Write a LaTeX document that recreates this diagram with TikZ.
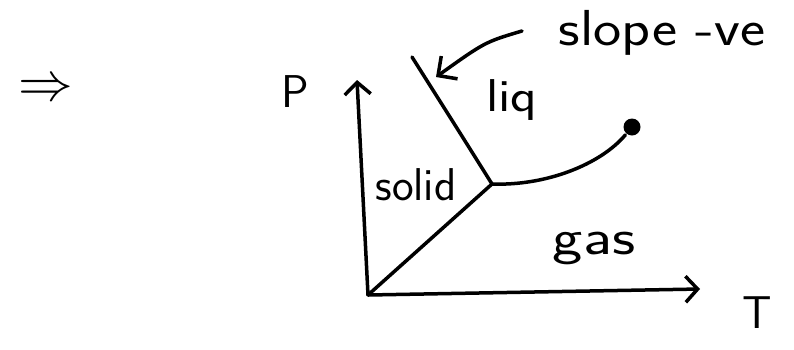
\documentclass[tikz,border=0pt]{standalone}
\usetikzlibrary{arrows.meta}
\begin{document}
\begin{tikzpicture}[x=1pt,y=-1pt,line width=3.5pt,line cap=round,line join=round,
  every node/.style={font=\sffamily\fontsize{46}{50}\selectfont,inner sep=1pt},
  axis/.style={-{Straight Barb[length=12pt,width=26pt,line width=3.5pt]}},
  pointer/.style={-{Straight Barb[length=14pt,width=28pt,line width=3.5pt]}}]
\useasboundingbox (0,0) rectangle (794,349);
\coordinate (O) at (368,295);
\coordinate (Ptop) at (357,80);
\coordinate (Tend) at (700,289);
\coordinate (TP) at (492,184);
\coordinate (SL) at (412,57);
\coordinate (tip) at (436,77);
\coordinate (tail) at (522,31);
\node[circle,fill,inner sep=0pt,minimum size=17pt] (CP) at (632,127) {};
\draw[axis] (O) -- (Ptop);
\draw[axis] (O) -- (Tend);
\draw (O) -- (TP);
\draw (TP) .. controls (455,125) .. (SL);
\draw (TP) .. controls (545,186) and (600,165) .. (CP);
\draw[pointer] (tail) .. controls (485,42) .. (tip);
\node[scale=2.2] (impl) at (46,90) {$\Rightarrow$};
\node (P) at (295,92) {P};
\node (T) at (757,313) {T};
\node[xscale=1.3,yscale=1.1] (slope) at (662,33) {slope -ve};
\node[xscale=1.2] (liq) at (512,100) {liq};
\node[xscale=1.4,yscale=1.1] (gas) at (594,248) {gas};
\node (solid) at (416,185) {solid};
\end{tikzpicture}
\end{document}
